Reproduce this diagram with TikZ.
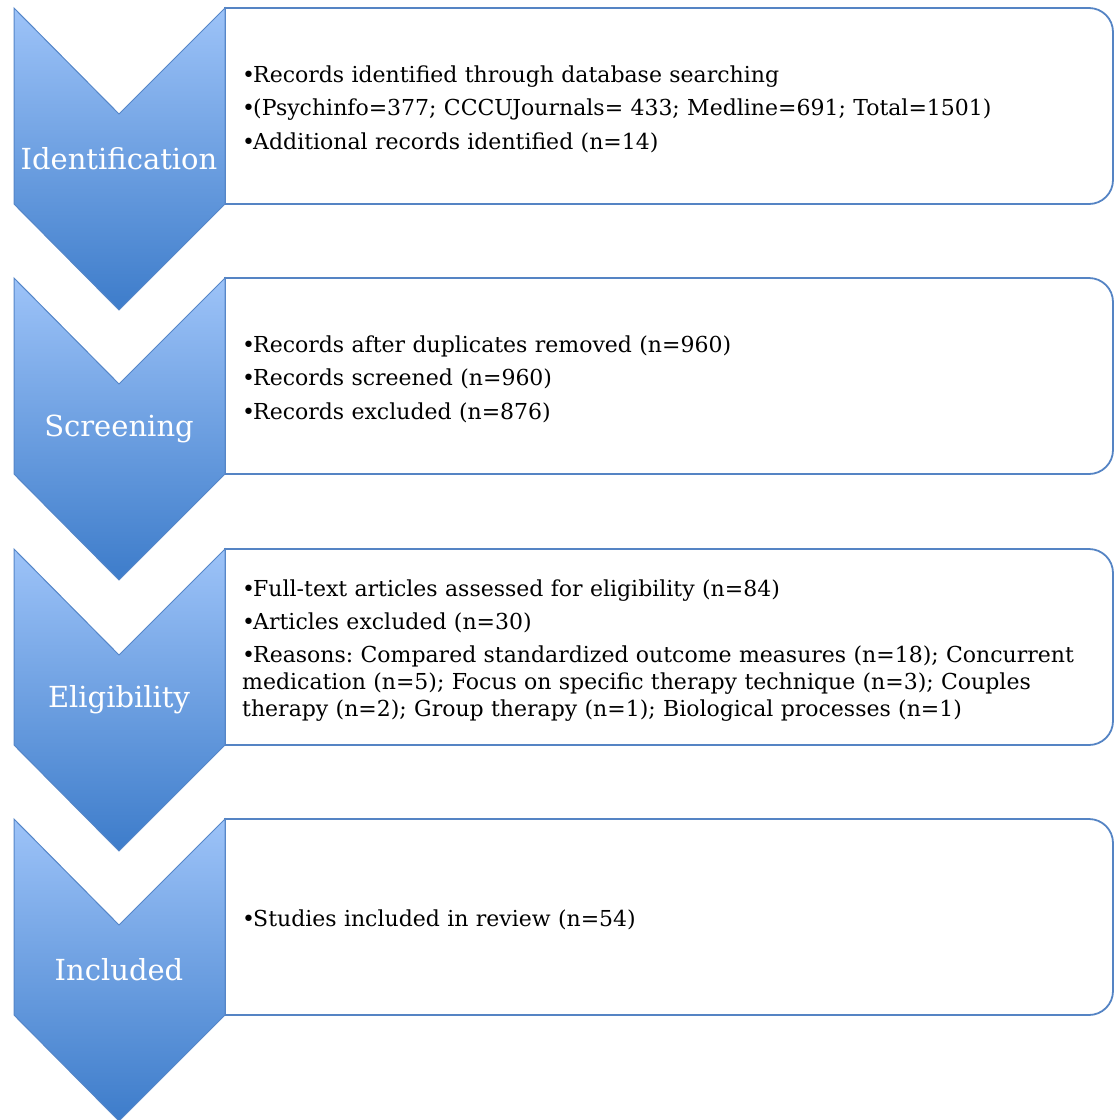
\documentclass[tikz,border=0pt]{standalone}
\usepackage{fontspec}
\setmainfont{DejaVu Serif}
\frenchspacing
\definecolor{chevtop}{HTML}{9DC3F8}
\definecolor{chevbot}{HTML}{3D7CCA}
\definecolor{chevline}{HTML}{5586C8}
\definecolor{boxline}{HTML}{5584C4}
\newlength\bulw
\setlength\bulw{11pt}
\newcommand\itm[1]{\par\hangindent=\bulw\hangafter=1\noindent\makebox[\bulw][l]{•}#1}
\tikzset{
  chev/.style={draw=chevline, line width=1pt, top color=chevtop, bottom color=chevbot, line join=miter},
  stepbox/.style={draw=boxline, line width=1.8pt, fill=white},
  lbl/.style={text=white, font=\fontsize{29}{34}\selectfont, anchor=center, inner sep=0pt},
  body/.style={anchor=west, align=left, text width=870pt, inner sep=0pt,
    font=\fontsize{22}{26.7}\selectfont\frenchspacing, execute at begin node={\setlength\parskip{6.5pt}}}
}
\newcommand\stage[4]{%
  % #1 top y, #2 label, #3 body, #4 name
  \draw[stepbox] (225,#1+196) -- (225,#1) -- (700,#1) [rounded corners=24pt] -- (1113,#1) -- (1113,#1+196) -- (700,#1+196) [sharp corners] -- cycle;
  \path[chev] (14,#1) -- (119,#1+106) -- (225,#1) -- (225,#1+196) -- (119,#1+302) -- (14,#1+196) -- cycle;
  \node[lbl] (#4l) at (119,#1+151) {#2};
  \node[body] (#4b) at (242,#1+93) {#3};
}
\begin{document}
\begin{tikzpicture}[x=1pt,y=-1pt]
\useasboundingbox (0,0) rectangle (1114,1120);
\stage{8}{Identification}{\itm{Records identified through database searching}\itm{(Psychinfo=377; CCCUJournals= 433; Medline=691; Total=1501)}\itm{Additional records identified (n=14)}}{a}
\stage{278}{Screening}{\itm{Records after duplicates removed (n=960)}\itm{Records screened (n=960)}\itm{Records excluded (n=876)}}{b}
\stage{549}{Eligibility}{\itm{Full-text articles assessed for eligibility (n=84)}\itm{Articles excluded (n=30)}\itm{Reasons: Compared standardized outcome measures (n=18); Concurrent\\medication (n=5); Focus on specific therapy technique (n=3); Couples\\therapy (n=2); Group therapy (n=1); Biological processes (n=1)}}{c}
\stage{819}{Included}{\itm{Studies included in review (n=54)}}{d}
\end{tikzpicture}
\end{document}
